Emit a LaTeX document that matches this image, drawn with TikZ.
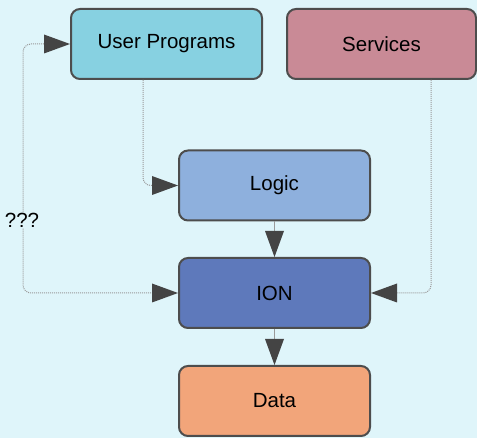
\documentclass[tikz,border=0pt]{standalone}
\usepackage{fontspec}
\setmainfont{Liberation Sans}
\usetikzlibrary{arrows.meta}
\definecolor{bg}{HTML}{DFF5FA}
\definecolor{cUser}{HTML}{87D1E1}
\definecolor{cServ}{HTML}{C98A96}
\definecolor{cLogic}{HTML}{8EB0DD}
\definecolor{cIon}{HTML}{5E79BB}
\definecolor{cData}{HTML}{F2A57A}
\definecolor{cBorder}{HTML}{4D4D4D}
\definecolor{cHead}{HTML}{444444}
\definecolor{cLine}{HTML}{9A9A9A}
\tikzset{
  headtip/.tip={Triangle[length=26pt, width=19pt, color=cHead, fill=cHead, line width=0pt]},
  box/.style={draw=cBorder, line width=2pt, rounded corners=9pt, minimum width=191pt, minimum height=70pt, inner sep=0pt, font=\fontsize{20.5}{24}\selectfont, text=black},
  conn/.style={draw=cLine, line width=1pt, densely dotted, rounded corners=8pt, -headtip},
  solidconn/.style={draw=cLine, line width=1.2pt, -headtip},
}
\begin{document}
\begin{tikzpicture}[x=1pt, y=-1pt]
\fill[bg] (0,0) rectangle (477,438);
\useasboundingbox (0,0) rectangle (477,438);
\node[box, fill=cUser] (user) at (166.5,44) {User Programs};
\node[box, fill=cServ, minimum width=189pt] (serv) at (381.5,44) {Services};
\node[box, fill=cLogic] (logic) at (274.5,185.5) {Logic};
\node[box, fill=cIon] (ion) at (274.5,293) {ION};
\node[box, fill=cData] (data) at (274.5,401) {Data};
\coordinate (left) at (23,293);
\draw[conn] (user.south -| 143,0) |- (logic.west);
\draw[conn] (serv.south -| 431,0) |- (ion.east);
\draw[solidconn] (logic) -- (ion);
\draw[solidconn] (ion) -- (data);
\draw[conn, headtip-headtip] (user.west) -| (left) -- (ion.west);
\node[fill=bg, inner sep=1pt, font=\fontsize{20.5}{24}\selectfont] (q) at (22,220) {???};
\end{tikzpicture}
\end{document}
